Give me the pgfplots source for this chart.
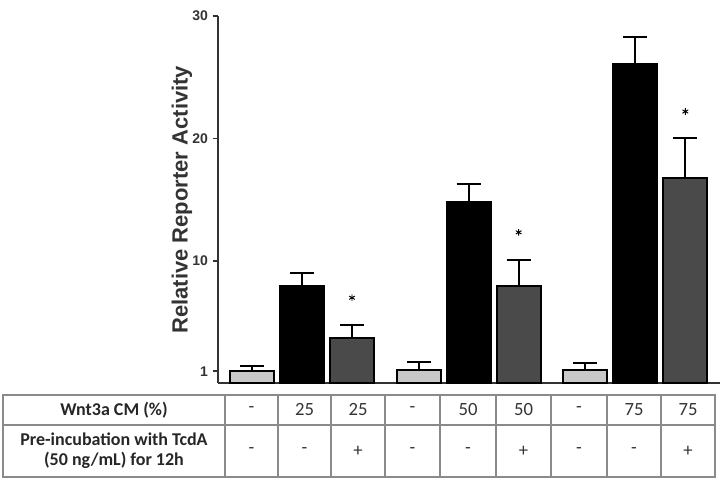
\documentclass[border=0pt]{standalone}
\usepackage{fontspec}
\setmainfont{Liberation Sans}
\newfontfamily\tabfont{Carlito}
\usepackage{pgfplots}
\pgfplotsset{compat=1.18}
\definecolor{lgray}{HTML}{C8C8C8}
\definecolor{dgray}{HTML}{4A4A4A}
\definecolor{axgray}{HTML}{333333}
\definecolor{tabline}{HTML}{8A8A8A}
\begin{document}
\begin{tikzpicture}
\path[use as bounding box] (0,0) rectangle (541.5pt,-360.75pt);
\begin{axis}[
  at={(163.5pt,-287.625pt)}, anchor=south west,
  scale only axis, width=376.5pt, height=275.625pt,
  xmin=-0.68, xmax=9.36, ymin=0, ymax=30,
  axis x line=bottom, axis y line=left,
  axis line style={-, line width=1.5pt, axgray},
  xtick=\empty, ytick={1,10,20,30},
  ytick align=outside, major tick length=4pt,
  tick style={line width=1.2pt, axgray},
  /pgf/number format/assume math mode=true,
  yticklabel style={font=\bfseries\fontsize{10.5}{11}\selectfont, text=axgray},
  ylabel={Relative Reporter Activity},
  every axis y label/.style={at={(axis description cs:-0.0717,0.5)}, rotate=90, anchor=center,
    font=\bfseries\fontsize{16.5}{18}\selectfont, text=axgray},
  clip=false,
  every error bar/.append style={},
]
\addplot[ybar, bar width=33pt, bar shift=0pt, fill=lgray, draw=black, line width=1.5pt,
  error bars/.cd, y dir=plus, y explicit, error mark=|,
  error bar style={line width=1.5pt, black},
  error mark options={line width=1.5pt, mark size=9pt, black}]
  coordinates {(0,1.0) +- (0,0.45) (3.333,1.1) +- (0,0.68) (6.667,1.1) +- (0,0.55)};
\addplot[ybar, bar width=33pt, bar shift=0pt, fill=black, draw=black, line width=1.5pt,
  error bars/.cd, y dir=plus, y explicit, error mark=|,
  error bar style={line width=1.5pt, black},
  error mark options={line width=1.5pt, mark size=9pt, black}]
  coordinates {(1,7.96) +- (0,1.09) (4.333,14.79) +- (0,1.47) (7.667,26.06) +- (0,2.25)};
\addplot[ybar, bar width=33pt, bar shift=0pt, fill=dgray, draw=black, line width=1.5pt,
  error bars/.cd, y dir=plus, y explicit, error mark=|,
  error bar style={line width=1.5pt, black},
  error mark options={line width=1.5pt, mark size=9pt, black}]
  coordinates {(2,3.69) +- (0,1.09) (5.333,7.96) +- (0,2.12) (8.667,16.75) +- (0,3.25)};
\addplot[only marks, mark=asterisk, mark size=2.5pt, mark options={line width=0.7pt, black}]
  coordinates {(2,7.0) (5.333,12.34) (8.667,22.2)};
\end{axis}
\begin{scope}[x=0.75pt,y=-0.75pt]
\draw[tabline, line width=1.3pt] (3,395) rectangle (715,477);
\draw[tabline, line width=1.3pt] (3,425) -- (715,425);
\foreach \x in {225,278,331,385,440,496,551,607,661}
  \draw[tabline, line width=1.3pt] (\x,395) -- (\x,477);
\node[font=\tabfont\bfseries\fontsize{13.5}{15}\selectfont, text=black!85] at (114,410) {Wnt3a CM (\%)};
\node[align=center, font=\tabfont\bfseries\fontsize{13.5}{15}\selectfont, text=black!85] at (114,451) {Pre-incubation with TcdA\\(50 ng/mL) for 12h};
\foreach \x/\a/\b in {251.5/-/-, 304.5/25/-, 358/25/+, 412.5/-/-, 468/50/-, 523.5/50/+, 579/-/-, 634/75/-, 688/75/+} {
  \node[font=\tabfont\fontsize{14}{15}\selectfont, text=black!80] at (\x,410) {\a};
  \node[font=\tabfont\fontsize{14}{15}\selectfont, text=black!80] at (\x,451) {\b};
}
\end{scope}
\end{tikzpicture}
\end{document}
